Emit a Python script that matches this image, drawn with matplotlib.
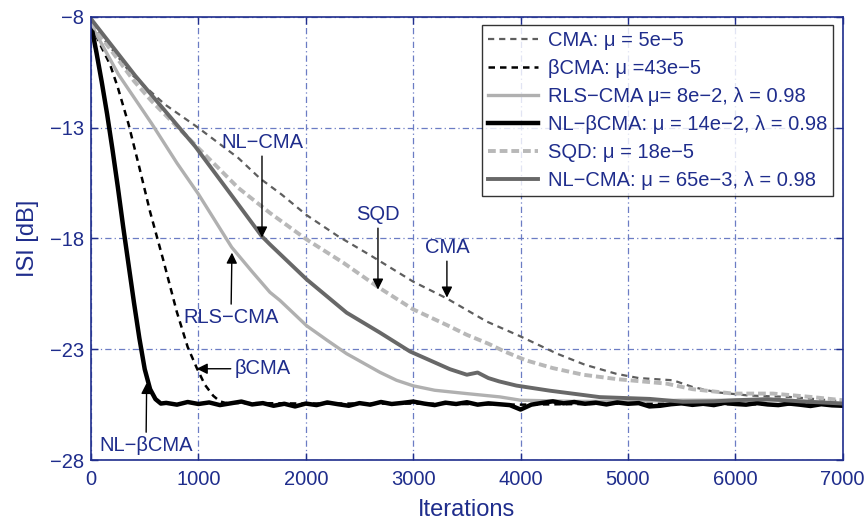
import matplotlib
matplotlib.use('Agg')
import matplotlib.pyplot as plt
import numpy as np

plt.rcParams['font.family'] = ['Liberation Sans', 'DejaVu Sans']

blue = '#1f2d8c'
grid_blue = '#6b7cc4'

# CMA: mu = 5e-5
cma_x = [0, 200, 378, 689, 999, 1371, 1575, 1775, 2008, 2300, 2597, 3000, 3310, 3685,
         3990, 4340, 4600, 4893, 5100, 5420, 5600, 5822, 6132, 6500, 7000]
cma_y = [-8.3, -9.5, -10.6, -11.96, -13.01, -14.37, -15.3, -16.02, -16.95, -17.9, -18.75,
         -19.95, -20.7, -21.75, -22.4, -23.2, -23.7, -24.11, -24.3, -24.4, -24.7, -24.94,
         -25.09, -25.15, -25.35]

# beta-CMA
bcma_x = [0, 100, 177, 250, 348, 450, 550, 674, 798, 900, 985, 1060, 1138, 1200, 1250,
          2000, 3000, 4000, 5000, 6000, 7000]
bcma_y = [-8.35, -9.4, -10.15, -11.2, -12.82, -14.8, -16.8, -19.0, -21.3, -22.9, -23.85,
          -24.6, -25.1, -25.35, -25.42, -25.45, -25.45, -25.5, -25.45, -25.48, -25.5]

# RLS-CMA
rls_x = [0, 255, 565, 800, 1000, 1310, 1500, 1666, 1760, 2008, 2200, 2380, 2690, 2845,
         3000, 3200, 3497, 3807, 4000, 4500, 5000, 5500, 6000, 6500, 7000]
rls_y = [-8.35, -10.6, -12.82, -14.6, -16.0, -18.4, -19.5, -20.43, -20.8, -21.94, -22.6,
         -23.2, -24.04, -24.4, -24.65, -24.85, -25.0, -25.15, -25.3, -25.35, -25.35, -25.3,
         -25.3, -25.3, -25.45]

# NL-beta-CMA: fast drop, then noisy floor
nlb_head_x = [0, 50, 100, 150, 200, 250, 300, 350, 400, 450, 500, 550, 600, 650]
nlb_head_y = [-8.35, -9.6, -10.95, -12.4, -14.0, -15.7, -17.5, -19.2, -20.9, -22.5, -23.9,
              -24.8, -25.25, -25.45]
nlb_floor = [-25.42, -25.50, -25.38, -25.47,
             -25.40, -25.52, -25.44, -25.36, -25.49, -25.43, -25.55, -25.46, -25.58, -25.45,
             -25.52, -25.40, -25.48, -25.55, -25.43, -25.50, -25.38, -25.47, -25.42, -25.36,
             -25.45, -25.52, -25.41, -25.47, -25.39, -25.50, -25.44, -25.48, -25.52, -25.72,
             -25.50, -25.42, -25.35, -25.44, -25.38, -25.46, -25.41, -25.49, -25.40, -25.46,
             -25.43, -25.58, -25.55, -25.48, -25.44, -25.51, -25.46, -25.52, -25.42, -25.47,
             -25.50, -25.43, -25.49, -25.52, -25.45, -25.50, -25.56, -25.48, -25.53, -25.55]
nlb_floor_x = np.arange(700, 7001, 100)

# SQD: mu = 18e-5
sqd_x = [0, 200, 400, 565, 937, 1371, 1666, 2008, 2350, 2675, 3000, 3310, 3500, 3700,
         3850, 4050, 4300, 4583, 4900, 5358, 5600, 5978, 6350, 6700, 7000]
sqd_y = [-8.3, -9.6, -10.9, -11.81, -13.62, -15.72, -16.85, -18.05, -19.1, -20.2, -21.2,
         -21.9, -22.35, -22.75, -23.1, -23.5, -23.85, -24.15, -24.35, -24.55, -24.8, -25.0,
         -25.0, -25.15, -25.3]

# NL-CMA
nlc_x = [0, 410, 970, 1300, 1590, 1666, 2008, 2380, 2690, 2970, 3342, 3500, 3600, 3700,
         3800, 3962, 4273, 4738, 5203, 5510, 5800, 6000, 6300, 6600, 7000]
nlc_y = [-8.1, -10.65, -13.85, -16.0, -17.9, -18.27, -19.85, -21.35, -22.25, -23.1, -23.9,
         -24.15, -24.05, -24.3, -24.45, -24.64, -24.87, -25.16, -25.24, -25.37, -25.35,
         -25.3, -25.25, -25.35, -25.45]

labels = ['CMA: \u03bc = 5e\u22125',
          '\u03b2CMA: \u03bc =43e\u22125',
          'RLS\u2212CMA \u03bc= 8e\u22122, \u03bb = 0.98',
          'NL\u2212\u03b2CMA: \u03bc = 14e\u22122, \u03bb = 0.98',
          'SQD: \u03bc = 18e\u22125',
          'NL\u2212CMA: \u03bc = 65e\u22123, \u03bb = 0.98']

fs = 14.5

fig = plt.figure(figsize=(8.67, 5.24), dpi=100)
ax = fig.add_axes([0.105, 0.122, 0.867, 0.846])

ax.plot(cma_x, cma_y, color='#5e5e5e', lw=1.6, dashes=(2.8, 2.2), label=labels[0])
ax.plot(bcma_x, bcma_y, color='black', lw=1.8, dashes=(2.6, 2.0), label=labels[1])
ax.plot(rls_x, rls_y, color='#b0b0b0', lw=2.4, label=labels[2])
ax.plot(list(nlb_head_x) + list(nlb_floor_x), nlb_head_y + nlb_floor, color='black',
        lw=3.2, label=labels[3])
ax.plot(sqd_x, sqd_y, color='#b8b8b8', lw=2.8, dashes=(2.0, 1.0), label=labels[4])
ax.plot(nlc_x, nlc_y, color='#686868', lw=2.8, label=labels[5])

ax.set_xlim(0, 7000)
ax.set_ylim(-28, -8)
ax.set_xticks(range(0, 7001, 1000))
ax.set_yticks([-28, -23, -18, -13, -8])

ax.grid(True, color=grid_blue, lw=0.9, dashes=(5, 2.5, 1, 2.5))
for s in ax.spines.values():
    s.set_color(blue)
    s.set_linewidth(1.2)
ax.tick_params(direction='in', length=5, width=1, colors=blue, labelsize=fs,
               top=True, right=True)
ax.tick_params(axis='x', pad=7)
ax.tick_params(axis='y', pad=5)

ax.set_xlabel('Iterations', fontsize=17, color=blue, labelpad=7)
ax.set_ylabel('ISI [dB]', fontsize=17, color=blue, labelpad=8)

leg = ax.legend(loc='upper right', bbox_to_anchor=(0.987, 0.982), borderaxespad=0,
                fontsize=fs, frameon=True, fancybox=False, handlelength=2.5,
                labelspacing=0.45, borderpad=0.3, handletextpad=0.45)
leg.get_frame().set_edgecolor('black')
leg.get_frame().set_linewidth(1.0)
for t in leg.get_texts():
    t.set_color(blue)

arrow = dict(arrowstyle='-|>', color='black', lw=1.0, mutation_scale=16,
             shrinkA=1, shrinkB=0)
notes = [('NL\u2212CMA', (1592, -17.96), (1592, -13.67)),
         ('SQD', (2672, -20.31), (2672, -16.92)),
         ('CMA', (3314, -20.67), (3314, -18.41)),
         ('RLS\u2212CMA', (1312, -18.64), (1303, -21.58)),
         ('\u03b2CMA', (984, -23.88), (1601, -23.88)),
         ('NL\u2212\u03b2CMA', (518, -24.52), (512, -27.36))]
for txt, tip, pos in notes:
    ax.annotate(txt, xy=tip, xytext=pos, ha='center', va='center', fontsize=fs,
                color=blue, arrowprops=arrow)

fig.savefig('out.png', dpi=100)
